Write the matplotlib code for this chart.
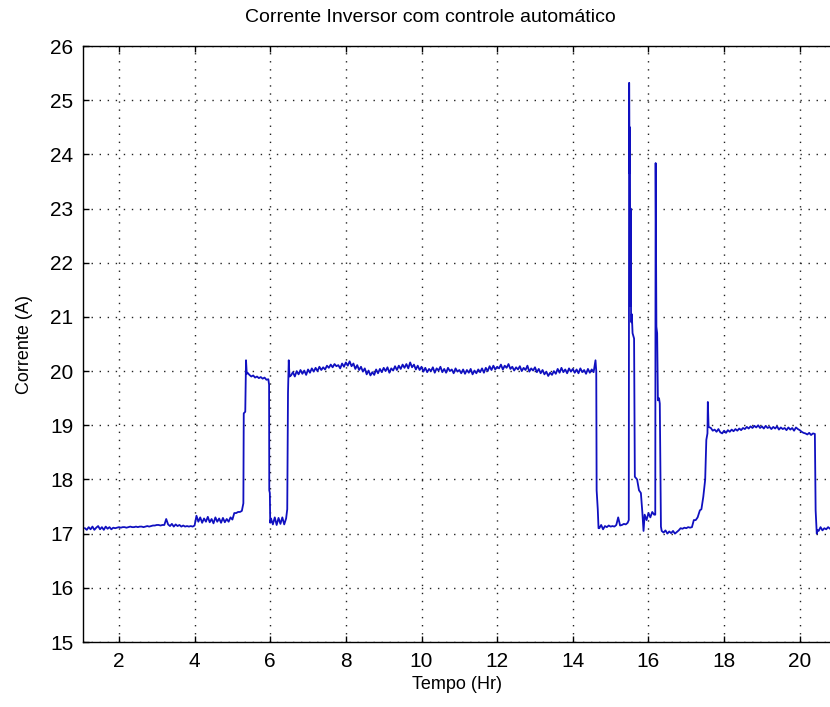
import matplotlib
matplotlib.use("Agg")
import matplotlib.pyplot as plt
import numpy as np

# sample times (Hr) and current (A)
# flat noisy stretches are sampled every 0.05 Hr, transitions have explicit times
base1_t = (1.10, 2.90)
base1_v = [17.10, 17.07, 17.12, 17.08, 17.13, 17.07, 17.11, 17.14, 17.08, 17.12,
           17.07, 17.13, 17.09, 17.12, 17.08, 17.11, 17.10,
           17.11, 17.12, 17.11, 17.12, 17.12, 17.11, 17.12, 17.13, 17.12, 17.12,
           17.13, 17.12, 17.13, 17.13, 17.12, 17.13, 17.14, 17.13, 17.14, 17.15]
base2_t = (2.95, 4.00)
base2_v = [17.15, 17.16, 17.16, 17.15, 17.16, 17.16, 17.27, 17.17, 17.14, 17.18,
           17.13, 17.17, 17.14, 17.16, 17.13, 17.15, 17.13, 17.14, 17.13, 17.14,
           17.13, 17.15]
base3_t = (4.05, 5.00)
base3_v = [17.33, 17.22, 17.30, 17.20, 17.28, 17.22, 17.31, 17.21, 17.27, 17.19,
           17.30, 17.22, 17.28, 17.20, 17.29, 17.21, 17.27, 17.22, 17.30, 17.26]
rise1_t = [5.05, 5.10, 5.15, 5.20, 5.25, 5.29, 5.30, 5.34, 5.36, 5.38]
rise1_v = [17.38, 17.38, 17.40, 17.40, 17.42, 17.56, 19.22, 19.25, 20.20, 19.95]
high1_t = (5.40, 5.95)
high1_v = [19.97, 19.93, 19.90, 19.92, 19.88, 19.90, 19.87, 19.89, 19.86, 19.88,
           19.84, 19.85]
drop1_t = [5.97, 5.975, 5.99, 6.00]
drop1_v = [19.75, 17.80, 17.75, 17.20]
low2_t = (6.02, 6.42)
low2_v = [17.28, 17.17, 17.30, 17.16, 17.29, 17.18, 17.30, 17.17, 17.28]
rise2_t = [6.45, 6.47, 6.49, 6.51]
rise2_v = [17.45, 19.60, 20.20, 19.90]
main_t = (6.55, 14.55)
main_v = [19.92, 19.98, 19.90, 20.00, 19.94, 20.02, 19.95, 20.01, 19.93, 20.03,
          19.97, 20.05, 19.99, 20.06, 20.00, 20.08, 20.02, 20.07, 20.03, 20.10,
          20.06, 20.12, 20.07, 20.13, 20.09, 20.11, 20.05, 20.14, 20.08, 20.16,
          20.10, 20.18, 20.09, 20.14, 20.04, 20.11, 20.02, 20.08, 19.99, 20.05,
          19.94, 20.01, 19.92, 19.98, 19.93, 20.03, 19.96, 20.04, 19.98, 20.06,
          20.00, 20.07, 19.97, 20.05, 20.01, 20.09, 20.02, 20.10, 20.04, 20.12,
          20.06, 20.13, 20.05, 20.16, 20.07, 20.12, 20.03, 20.10, 20.02, 20.08,
          19.99, 20.06, 19.98, 20.04, 20.00, 20.07, 19.97, 20.05, 20.01, 20.08,
          19.98, 20.04, 19.97, 20.06, 20.00, 20.03, 19.96, 20.05, 19.99, 20.02,
          19.96, 20.03, 19.95, 20.02, 19.97, 20.04, 19.94, 20.01, 19.96, 20.03,
          19.98, 20.05, 19.97, 20.06, 20.00, 20.09, 20.02, 20.10, 20.03, 20.08,
          20.05, 20.12, 20.03, 20.10, 20.06, 20.13, 20.04, 20.08, 20.01, 20.07,
          20.03, 20.09, 20.00, 20.06, 20.02, 20.10, 19.99, 20.05, 20.01, 20.07,
          19.98, 20.04, 19.96, 20.02, 19.94, 19.99, 19.91, 19.97, 19.93, 20.00,
          19.95, 20.04, 19.97, 20.06, 19.98, 20.03, 19.96, 20.05, 19.99, 20.04,
          19.97, 20.03, 19.96, 20.05, 19.98, 20.02, 19.95, 20.04, 19.97, 20.03,
          19.98]
drop2_t = [14.60, 14.62, 14.63, 14.66, 14.68]
drop2_v = [20.20, 20.00, 17.80, 17.45, 17.10]
low3_t = (14.70, 15.45)
low3_v = [17.10, 17.16, 17.08, 17.14, 17.12, 17.15, 17.13, 17.14, 17.13, 17.16,
          17.30, 17.15, 17.16, 17.18, 17.17, 17.20]
spikes_t = [15.48, 15.49, 15.50, 15.51, 15.52, 15.53, 15.54, 15.55, 15.56, 15.58,
            15.62, 15.64, 15.70, 15.75, 15.80, 15.84, 15.87, 15.90, 15.95, 16.00,
            16.05, 16.10, 16.15, 16.18, 16.19, 16.21, 16.23, 16.25, 16.28, 16.30,
            16.33]
spikes_v = [17.25, 25.32, 23.65, 24.50, 21.20, 23.00, 21.07, 20.90, 21.05, 20.70,
            20.60, 18.05, 18.00, 17.80, 17.75, 17.38, 17.05, 17.35, 17.25, 17.38,
            17.30, 17.40, 17.35, 17.35, 23.84, 20.82, 20.70, 19.46, 19.50, 19.40,
            17.13]
low4_t = (16.35, 17.15)
low4_v = [17.05, 17.02, 17.06, 17.00, 17.04, 17.01, 17.05, 17.00, 17.03, 17.06,
          17.10, 17.09, 17.11, 17.10, 17.12, 17.11, 17.12]
rise3_t = [17.20, 17.25, 17.30, 17.36, 17.40, 17.45, 17.50, 17.53, 17.56, 17.57,
           17.59, 17.65, 17.70]
rise3_v = [17.25, 17.25, 17.30, 17.43, 17.45, 17.68, 18.00, 18.73, 18.85, 19.43,
           18.97, 18.95, 18.90]
high3_t = (17.75, 20.40)
high3_v = [18.92, 18.88, 18.93, 18.87, 18.85, 18.90, 18.86, 18.91, 18.88, 18.92,
           18.89, 18.93, 18.90, 18.94, 18.91, 18.95, 18.93, 18.97, 18.94, 18.98,
           18.95, 18.99, 18.96, 19.00, 18.95, 18.98, 18.94, 18.99, 18.95, 18.97,
           18.93, 18.97, 18.94, 18.98, 18.92, 18.96, 18.93, 18.95, 18.91, 18.96,
           18.92, 18.95, 18.90, 18.96, 18.93, 18.91, 18.88, 18.86, 18.85,
           18.83, 18.86, 18.82, 18.85, 18.84]
drop3_t = [20.42, 20.45, 20.47]
drop3_v = [17.43, 17.00, 17.07]
low5_t = (20.50, 20.85)
low5_v = [17.05, 17.12, 17.06, 17.10, 17.08, 17.12, 17.09, 17.11]


def even(span, vals):
    # flat stretches are evenly sampled between the two end times
    return list(np.linspace(span[0], span[1], len(vals))), list(vals)


pieces = [even(base1_t, base1_v), even(base2_t, base2_v), even(base3_t, base3_v),
          (rise1_t, rise1_v), even(high1_t, high1_v), (drop1_t, drop1_v),
          even(low2_t, low2_v), (rise2_t, rise2_v), even(main_t, main_v),
          (drop2_t, drop2_v), even(low3_t, low3_v), (spikes_t, spikes_v),
          even(low4_t, low4_v), (rise3_t, rise3_v), even(high3_t, high3_v),
          (drop3_t, drop3_v), even(low5_t, low5_v)]
tempo = []
corrente = []
for tt, vv in pieces:
    tempo += list(tt)
    corrente += list(vv)

plt.rcParams['font.family'] = ['Liberation Sans', 'DejaVu Sans']

fig = plt.figure(figsize=(8.3, 7.07), dpi=100)
ax = fig.add_axes([83 / 830, 65 / 707, 747 / 830, 596 / 707])
ax.plot(tempo, corrente, color='#1010c0', linewidth=1.3)

ax.set_xlim(1.05, 20.8)
ax.set_ylim(15, 26)
ax.set_xticks(np.arange(2, 21, 2))
ax.set_yticks(np.arange(15, 27, 1))
ax.grid(True, color='#222222', linestyle=(0, (1, 4.8)), linewidth=1.0)
ax.spines['right'].set_visible(False)
for s in ['left', 'top', 'bottom']:
    ax.spines[s].set_linewidth(1.0)
ax.tick_params(direction='in', length=4, width=1, top=True, right=False,
               labelsize=15, pad=7)

ax.set_xlabel("Tempo (Hr)", fontsize=13, labelpad=4)
ax.set_ylabel("Corrente (A)", fontsize=13, labelpad=12)
fig.text(430 / 830, 1 - 18 / 707, "Corrente Inversor com controle automático",
         ha='center', va='center', fontsize=14)

fig.savefig("out.png", dpi=100)
